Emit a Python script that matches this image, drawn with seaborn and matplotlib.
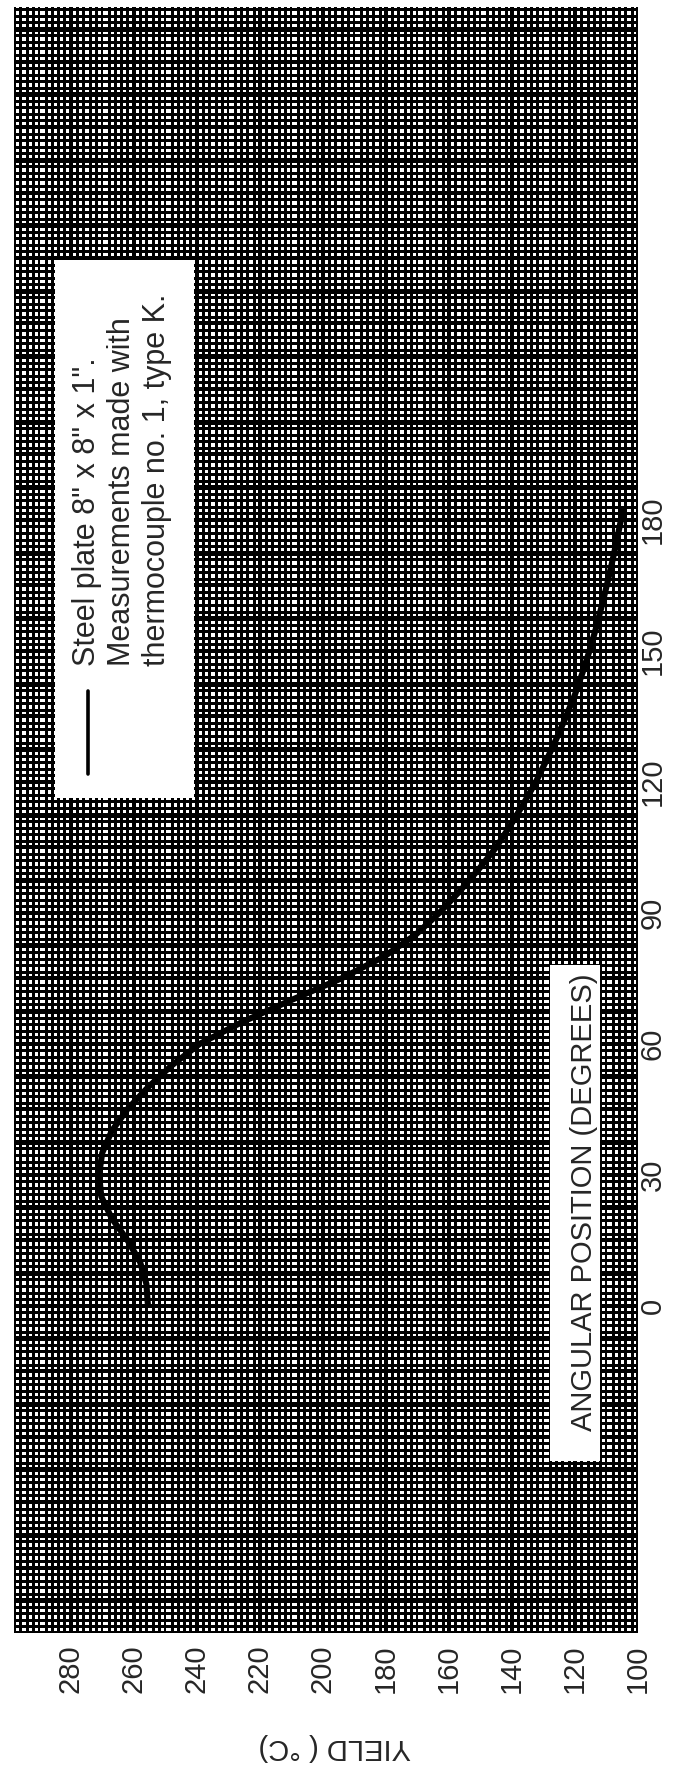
import matplotlib
matplotlib.use("Agg")
import matplotlib.pyplot as plt
import seaborn as sns
import numpy as np
import pandas as pd
from matplotlib import font_manager as fm
from matplotlib.patches import Rectangle
from matplotlib.lines import Line2D

# ---- data -------------------------------------------------------------
angle_deg = [0, 5, 10, 15, 20, 25, 30, 35, 40, 45, 50, 55, 60, 65, 70, 75,
             80, 85, 90, 95, 100, 105, 110, 115, 120, 125, 130, 135, 140,
             145, 150, 155, 160, 165, 170, 175, 180, 183]
yield_c = [255.5, 256.0, 258.0, 262.0, 267.0, 270.3, 271.0, 270.0, 267.0,
           262.0, 255.5, 248.0, 239.0, 225.5, 210.0, 194.0, 180.5, 170.5,
           163.0, 156.5, 150.5, 145.0, 140.5, 136.3, 132.4, 129.0, 125.8,
           122.8, 120.0, 117.6, 115.4, 113.4, 111.6, 109.9, 108.3, 106.8,
           105.4, 104.6]
yield_ticks = [280, 260, 240, 220, 200, 180, 160, 140, 120, 100]
angle_ticks = [0, 30, 60, 90, 120, 150, 180]
x_label = "YIELD ( °C)"
y_label = "ANGULAR POSITION (DEGREES)"
legend_lines = ['Steel plate 8" x 8" x 1".',
                'Measurements made with',
                'thermocouple no. 1, type K.']

df = pd.DataFrame({"angle": angle_deg, "yield": yield_c})

# ---- style / fonts ----------------------------------------------------
sns.set_style("white")
names = {f.name for f in fm.fontManager.ttflist}
body_font = "Liberation Sans" if "Liberation Sans" in names else "DejaVu Sans"
if "Liberation Sans Narrow" in names:
    label_font, label_size = "Liberation Sans Narrow", 26
else:
    label_font, label_size = body_font, 21
plt.rcParams["font.family"] = [body_font, "DejaVu Sans"]

W, H = 673, 1768
fig = plt.figure(figsize=(W / 100, H / 100), dpi=100)
ax = fig.add_axes([14 / W, 135 / H, 624 / W, 1626 / H])

x_lo, x_hi = 298, 100
y_lo, y_hi = -75, 297.5
ax.set_xlim(x_lo, x_hi)
ax.set_ylim(y_lo, y_hi)
for s in ax.spines.values():
    s.set_visible(False)

# ---- graph-paper ruling -------------------------------------------------
kx = np.arange(50, 150)            # every 2 units of yield
vx = 2.0 * kx
fine_x = vx[kx % 5 != 0]
mid_x = vx[(kx % 5 == 0) & (kx % 10 != 0)]
major_x = vx[kx % 10 == 0]
ky = np.arange(-50, 199)           # every 1.5 degrees
vy = 1.5 * ky
fine_y = vy[ky % 5 != 0]
mid_y = vy[(ky % 5 == 0) & (ky % 10 != 0)]
major_y = vy[ky % 10 == 0]

rule = dict(color="black", antialiased=False, zorder=0)
ax.hlines(fine_y, x_lo, x_hi, lw=2.0, **rule)
ax.vlines(fine_x, y_lo, y_hi, lw=0.75, **rule)
ax.hlines(mid_y, x_lo, x_hi, lw=2.2, **rule)
ax.vlines(mid_x, y_lo, y_hi, lw=1.1, **rule)
ax.hlines(major_y, x_lo, x_hi, lw=2.6, **rule)
ax.vlines(major_x, y_lo, y_hi, lw=1.6, **rule)

# ---- curve --------------------------------------------------------------
sns.lineplot(data=df, x="yield", y="angle", sort=False, estimator=None,
             color="black", lw=4.4, solid_capstyle="butt", ax=ax, zorder=3)
ax.set_ylabel("")

# ---- axes ticks ---------------------------------------------------------
ax.set_xticks(yield_ticks)
ax.set_xticklabels([str(v) for v in yield_ticks], rotation=90,
                   family=label_font, fontsize=label_size)
ax.tick_params(axis="x", length=0, pad=8.5)

ax.yaxis.tick_right()
ax.set_yticks(angle_ticks)
ax.set_yticklabels([str(v) for v in angle_ticks], rotation=90,
                   family=label_font, fontsize=label_size)
ax.tick_params(axis="y", length=0, pad=10.8)
for lbl in ax.get_yticklabels():
    lbl.set_ha("center")
    lbl.set_va("center")

ax.set_xlabel(x_label, rotation=180, family=body_font, fontsize=21)
ax.xaxis.set_label_coords(0.514, -0.0701)
ax.xaxis.label.set_va("center")

# ---- in-plot axis title on a white panel -----------------------------------
ax.add_patch(Rectangle((0.859, 0.106), 0.080, 0.305, transform=ax.transAxes,
                       facecolor="white", edgecolor="none", zorder=2))
ax.text(0.913, 0.265, y_label, transform=ax.transAxes, rotation=90,
        ha="center", va="center", family=label_font, fontsize=label_size,
        zorder=4)

# ---- legend panel -----------------------------------------------------------
ax.add_patch(Rectangle((0.066, 0.5135), 0.2225, 0.331, transform=ax.transAxes,
                       facecolor="white", edgecolor="none", zorder=2))
ax.add_line(Line2D([0.1186, 0.1186], [0.5283, 0.5793], transform=ax.transAxes,
                   color="black", lw=2.6, zorder=4))
ax.text(0.173, 0.5947, "\n".join(legend_lines), transform=ax.transAxes,
        rotation=90, ha="center", va="bottom", multialignment="left",
        family=body_font, fontsize=22, linespacing=1.2, zorder=4)

fig.savefig("out.png", dpi=100)
